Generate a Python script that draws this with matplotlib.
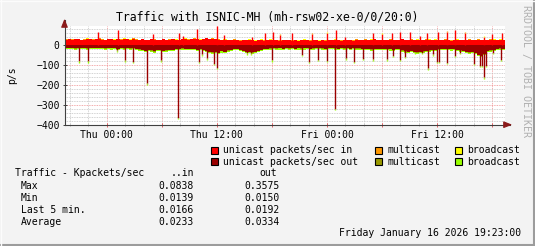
import numpy as np
import matplotlib
matplotlib.use("Agg")
import matplotlib.pyplot as plt
import matplotlib.dates as mdates
from matplotlib.patches import Rectangle
from matplotlib.ticker import MultipleLocator, FuncFormatter
import datetime as dt

W, H = 535, 246
MONO = "DejaVu Sans Mono"

# ---- data (packets/sec), 20 minute samples from Wed 19:23 to Fri 19:23 ----
start = dt.datetime(2026, 1, 14, 19, 23)
step_min = 20

uni_in = [
    26, 28, 25, 27, 29, 24, 26, 30, 27, 25, 28, 31, 26, 24, 27, 29, 25, 28, 26, 30, 27, 25, 29, 26,
    24, 27, 25, 23, 28, 26, 22, 25, 27, 24, 26, 29, 25, 23, 27, 30, 26, 28, 31, 27, 25, 29, 32, 28,
    30, 27, 26, 24, 25, 22, 24, 26, 23, 21, 24, 22, 25, 23, 20, 22, 24, 21, 23, 25, 22, 24, 21, 23,
    22, 24, 21, 23, 20, 22, 25, 23, 21, 24, 22, 20, 23, 21, 24, 22, 25, 23, 21, 22, 24, 23, 21, 25,
    24, 22, 26, 23, 25, 27, 24, 22, 25, 23, 26, 24, 22, 25, 27, 23, 24, 26, 22, 25, 23, 24, 26, 25,
    23, 25, 22, 24, 26, 23, 21, 24, 25, 22, 24, 23, 26, 24, 22, 25, 23, 24, 22, 26, 24, 23, 25, 24,
]
multi_in = [
    1, 1, 2, 1, 1, 1, 2, 1, 1, 3, 1, 1, 1, 2, 1, 1, 1, 1, 2, 1, 1, 1, 3, 1,
    1, 2, 1, 1, 1, 1, 2, 1, 1, 1, 1, 2, 1, 1, 1, 1, 3, 1, 1, 2, 1, 1, 1, 1,
    2, 1, 1, 1, 1, 2, 1, 1, 1, 1, 1, 2, 1, 1, 1, 1, 2, 1, 1, 1, 1, 1, 2, 1,
    1, 1, 2, 1, 1, 1, 1, 1, 2, 1, 1, 1, 1, 3, 1, 1, 1, 1, 2, 1, 1, 1, 1, 2,
    1, 1, 1, 2, 1, 1, 1, 1, 1, 2, 1, 1, 1, 1, 3, 1, 1, 1, 2, 1, 1, 1, 1, 1,
    2, 1, 1, 1, 1, 2, 1, 1, 1, 1, 1, 2, 1, 1, 1, 3, 1, 1, 1, 1, 2, 1, 1, 1,
]
bcast_in = [
    1, 0, 1, 0, 1, 1, 0, 1, 0, 1, 0, 1, 1, 0, 1, 0, 1, 0, 1, 1, 0, 1, 0, 1,
    0, 1, 0, 1, 1, 0, 1, 0, 1, 0, 1, 0, 1, 1, 0, 1, 0, 1, 0, 1, 1, 0, 1, 0,
    1, 0, 1, 0, 1, 1, 0, 1, 0, 1, 0, 1, 1, 0, 1, 0, 1, 0, 1, 1, 0, 1, 0, 1,
    0, 1, 1, 0, 1, 0, 1, 0, 1, 1, 0, 1, 0, 1, 0, 1, 1, 0, 1, 0, 1, 0, 1, 1,
    1, 0, 1, 0, 1, 1, 0, 1, 0, 1, 0, 1, 1, 0, 1, 0, 1, 0, 1, 1, 0, 1, 0, 1,
    0, 1, 0, 1, 1, 0, 1, 0, 1, 0, 1, 1, 0, 1, 0, 1, 0, 1, 1, 0, 1, 0, 1, 0,
]
uni_out = [
    14, 16, 15, 17, 14, 16, 15, 18, 16, 15, 17, 16, 14, 18, 15, 17, 16, 19, 15, 17, 16, 18, 17, 20,
    22, 26, 30, 24, 28, 32, 27, 25, 30, 28, 24, 26, 22, 20, 18, 21, 19, 22, 20, 24, 22, 26, 30, 34,
    38, 35, 40, 32, 36, 28, 24, 22, 20, 25, 30, 34, 36, 38, 34, 30, 26, 20, 19, 18, 16, 18, 17, 19,
    17, 18, 16, 19, 17, 18, 16, 17, 19, 18, 16, 17, 18, 20, 17, 16, 18, 19, 17, 18, 16, 19, 17, 18,
    18, 20, 19, 21, 22, 20, 19, 21, 20, 22, 21, 24, 22, 20, 28, 32, 36, 30, 34, 38, 35, 33, 30, 28,
    26, 24, 22, 20, 21, 19, 22, 20, 24, 28, 30, 34, 38, 36, 40, 50, 55, 45, 30, 28, 24, 20, 18, 19,
]
multi_out = [
    1, 1, 1, 2, 1, 1, 1, 1, 2, 1, 1, 1, 1, 1, 2, 1, 1, 1, 1, 2, 1, 1, 1, 1,
    2, 1, 1, 1, 1, 2, 1, 1, 1, 1, 1, 2, 1, 1, 1, 1, 2, 1, 1, 1, 1, 1, 2, 1,
    1, 1, 2, 1, 1, 1, 1, 1, 2, 1, 1, 1, 1, 2, 1, 1, 1, 1, 1, 2, 1, 1, 1, 1,
    1, 2, 1, 1, 1, 1, 2, 1, 1, 1, 1, 1, 2, 1, 1, 1, 1, 2, 1, 1, 1, 1, 1, 2,
    1, 1, 1, 1, 2, 1, 1, 1, 1, 1, 2, 1, 1, 1, 1, 2, 1, 1, 1, 1, 1, 2, 1, 1,
    1, 2, 1, 1, 1, 1, 1, 2, 1, 1, 1, 1, 2, 1, 1, 1, 1, 1, 2, 1, 1, 1, 1, 1,
]
bcast_out = [
    5, 6, 5, 5, 6, 5, 5, 6, 5, 6, 5, 5, 6, 5, 5, 6, 5, 5, 6, 5, 6, 5, 5, 6,
    5, 5, 6, 5, 6, 5, 5, 6, 5, 5, 6, 5, 5, 6, 5, 6, 5, 5, 6, 5, 5, 6, 5, 5,
    6, 5, 5, 6, 5, 5, 6, 5, 6, 5, 5, 6, 5, 5, 6, 5, 5, 6, 5, 6, 5, 5, 6, 5,
    5, 6, 5, 5, 6, 5, 6, 5, 5, 6, 5, 5, 6, 5, 5, 6, 5, 6, 5, 5, 6, 5, 5, 6,
    5, 5, 6, 5, 6, 5, 5, 6, 5, 5, 6, 5, 5, 6, 5, 6, 5, 5, 6, 5, 5, 6, 5, 5,
    6, 5, 5, 6, 5, 5, 6, 5, 6, 5, 5, 6, 5, 5, 6, 5, 5, 6, 5, 6, 5, 5, 6, 5,
]

# short bursts (hours after start, packets/sec of unicast)
in_spike_h = [3.65, 5.84, 9.62, 12.49, 12.93, 14.45, 16.64, 17.40, 20.45, 21.87, 22.71,
              23.51, 24.82, 26.97, 28.64, 29.62, 30.60, 33.62, 34.60, 35.69, 36.60, 37.69,
              38.78, 39.58, 40.78, 41.69, 42.60, 43.69, 45.76, 46.60, 47.69]
in_spike_v = [65, 72, 53, 57, 45, 77, 93, 48, 40, 57, 62,
              50, 57, 55, 58, 72, 40, 57, 55, 57, 65, 65,
              45, 60, 65, 65, 72, 60, 40, 55, 60]
out_spike_h = [1.58, 2.56, 5.73, 6.60, 7.51, 9.03, 10.53, 12.41, 14.67, 15.00, 15.58,
               16.31, 16.64, 19.91, 20.35, 22.64, 25.91, 26.67, 27.65, 28.64, 29.45,
               30.68, 31.58, 32.60, 33.69, 35.15, 35.84, 36.60, 37.15, 38.24, 38.97,
               39.69, 40.17, 40.64, 40.85, 41.67, 42.60, 43.15, 44.60, 45.33, 45.55,
               45.76, 45.98, 46.67, 47.62]
out_spike_v = [82, 82, 28, 78, 87, 193, 78, 365, 86, 48, 68,
               96, 114, 42, 42, 76, 52, 86, 76, 81, 322,
               68, 84, 69, 73, 73, 56, 76, 59, 37, 42,
               118, 48, 86, 86, 89, 56, 40, 97, 106, 106,
               163, 106, 42, 76]

legend_rows = [("Max", "0.0838", "0.3575"),
               ("Min", "0.0139", "0.0150"),
               ("Last 5 min.", "0.0166", "0.0192"),
               ("Average", "0.0233", "0.0334")]

C_UNI_IN = "#FF0000"
C_UNI_OUT = "#9A0000"
C_MUL_IN = "#FF9900"
C_MUL_OUT = "#999900"
C_BC_IN = "#FFFF00"
C_BC_OUT = "#99FF00"


def fx(x):
    return x / W


def fy(y):
    return 1 - y / H


n = len(uni_in)
start_num = mdates.date2num(start)
edges = start_num + np.arange(n + 1) * step_min / 1440.0

u_in = np.array(uni_in, float)
m_in = np.array(multi_in, float)
b_in = np.array(bcast_in, float)
u_out = -np.array(uni_out, float)
m_out = -np.array(multi_out, float)
b_out = -np.array(bcast_out, float)

fig = plt.figure(figsize=(W / 100, H / 100), dpi=100)
fig.patch.set_facecolor("#F3F3F3")

ax = fig.add_axes([fx(64.5), fy(124.7), (504.7 - 64.5) / W, (124.7 - 25.7) / H])
ax.set_facecolor("white")
for s in ax.spines.values():
    s.set_visible(False)

ax.set_xlim(edges[0], edges[-1])
ax.set_ylim(-400, 95)

# stacked areas
ax.stairs(u_in, edges, baseline=0, fill=True, color=C_UNI_IN, lw=0)
ax.stairs(u_in + m_in, edges, baseline=u_in, fill=True, color=C_MUL_IN, lw=0)
ax.stairs(u_in + m_in + b_in, edges, baseline=u_in + m_in, fill=True, color=C_BC_IN, lw=0)
ax.stairs(u_out, edges, baseline=0, fill=True, color=C_UNI_OUT, lw=0)
ax.stairs(u_out + m_out, edges, baseline=u_out, fill=True, color=C_MUL_OUT, lw=0)
ax.stairs(u_out + m_out + b_out, edges, baseline=u_out + m_out, fill=True, color=C_BC_OUT, lw=0)

# bursts
sx = start_num + np.array(in_spike_h) / 24.0
sv = np.array(in_spike_v, float)
si = np.clip(np.searchsorted(edges, sx) - 1, 0, n - 1)
ax.vlines(sx, 0, sv, color=C_UNI_IN, lw=1.0)
ax.vlines(sx, sv, sv + m_in[si], color=C_MUL_IN, lw=1.0)
ax.vlines(sx, sv + m_in[si], sv + m_in[si] + b_in[si], color=C_BC_IN, lw=1.0)

ox = start_num + np.array(out_spike_h) / 24.0
ov = -np.array(out_spike_v, float)
oi = np.clip(np.searchsorted(edges, ox) - 1, 0, n - 1)
ax.vlines(ox, 0, ov, color=C_UNI_OUT, lw=1.0)
ax.vlines(ox, ov, ov + m_out[oi], color=C_MUL_OUT, lw=1.0)
ax.vlines(ox, ov + m_out[oi], ov + m_out[oi] + b_out[oi], color=C_BC_OUT, lw=1.0)

# grid / ticks
ax.set_axisbelow(True)
ax.yaxis.set_major_locator(MultipleLocator(100))
ax.yaxis.set_minor_locator(MultipleLocator(20))
ax.xaxis.set_major_locator(mdates.HourLocator(byhour=[0, 6, 12, 18]))
ax.xaxis.set_minor_locator(mdates.HourLocator(byhour=range(0, 24, 2)))


def tfmt(x, pos):
    d = mdates.num2date(x)
    if d.hour in (0, 12) and d.minute == 0:
        return d.strftime("%a %H:%M")
    return ""


ax.xaxis.set_major_formatter(FuncFormatter(tfmt))
ax.grid(which="minor", color="#C4C4C4", linestyle=(0, (1, 1)), lw=0.6)
ax.grid(which="major", color="#F09090", linestyle=(0, (1, 1)), lw=0.6)
ax.tick_params(axis="x", which="major", direction="inout", length=3, width=0.7,
               color="#E06060", pad=2.5, labelsize=7)
ax.tick_params(axis="x", which="minor", direction="inout", length=2, width=0.6,
               color="#A0A0A0")
ax.tick_params(axis="y", which="major", direction="inout", length=3, width=0.7,
               color="#404040", pad=2, labelsize=7)
ax.tick_params(axis="y", which="minor", length=0)
for lab in ax.get_xticklabels() + ax.get_yticklabels():
    lab.set_fontfamily(MONO)

# axes with arrows
ax.plot([0, 1.012], [0, 0], transform=ax.transAxes, color="#404040", lw=0.8, clip_on=False)
ax.plot([0, 0], [0, 1.06], transform=ax.transAxes, color="#404040", lw=0.8, clip_on=False)
ax.annotate("", xy=(1.017, 0), xytext=(1.0, 0), xycoords="axes fraction",
            arrowprops=dict(arrowstyle="-|>,head_length=0.5,head_width=0.2",
                            color="#8B1A1A", lw=0.8, shrinkA=0, shrinkB=0), annotation_clip=False)
ax.annotate("", xy=(0, 1.07), xytext=(0, 1.0), xycoords="axes fraction",
            arrowprops=dict(arrowstyle="-|>,head_length=0.5,head_width=0.2",
                            color="#8B1A1A", lw=0.8, shrinkA=0, shrinkB=0), annotation_clip=False)

# texts
fig.text(fx(267.5), fy(17.3), "Traffic with ISNIC-MH (mh-rsw02-xe-0/0/20:0)",
         family=MONO, fontsize=8.3, ha="center", va="center")
fig.text(fx(12), fy(74.7), "p/s", family=MONO, fontsize=7, rotation=90,
         ha="center", va="center")
fig.text(fx(526), fy(5), "RRDTOOL / TOBI OETIKER", family=MONO, fontsize=7.2,
         rotation=270, ha="center", va="top", color="#B0B0B0")

legend_items = [(210.7, 150, C_UNI_IN, "unicast packets/sec in"),
                (210.7, 161.7, C_UNI_OUT, "unicast packets/sec out"),
                (375, 150, C_MUL_IN, "multicast"),
                (375, 161.7, C_MUL_OUT, "multicast"),
                (455, 150, C_BC_IN, "broadcast"),
                (455, 161.7, C_BC_OUT, "broadcast")]
for x0, yc, col, label in legend_items:
    fig.add_artist(Rectangle((fx(x0), fy(yc + 3.5)), 7 / W, 7 / H, transform=fig.transFigure,
                             facecolor=col, edgecolor="black", lw=0.8))
    fig.text(fx(x0 + 12.5), fy(yc), label, family=MONO, fontsize=7, ha="left", va="center")

fig.text(fx(15), fy(173.3), "Traffic - Kpackets/sec", family=MONO, fontsize=7, va="center")
fig.text(fx(194), fy(173.3), "..in", family=MONO, fontsize=7, ha="right", va="center")
fig.text(fx(277.3), fy(173.3), "out", family=MONO, fontsize=7, ha="right", va="center")
for k, (name, vin, vout) in enumerate(legend_rows):
    yy = 185.7 + 12 * k
    fig.text(fx(20.7), fy(yy), name, family=MONO, fontsize=7, va="center")
    fig.text(fx(194), fy(yy), vin, family=MONO, fontsize=7, ha="right", va="center")
    fig.text(fx(280), fy(yy), vout, family=MONO, fontsize=7, ha="right", va="center")

fig.text(fx(520.7), fy(233.3), "Friday January 16 2026 19:23:00", family=MONO,
         fontsize=7, ha="right", va="center")

# 3d frame
fig.add_artist(plt.Line2D([0, 1], [fy(245), fy(245)], transform=fig.transFigure, color="#9C9C9C", lw=1.5))
fig.add_artist(plt.Line2D([fx(534), fx(534)], [0, 1], transform=fig.transFigure, color="#9C9C9C", lw=1.5))
fig.add_artist(plt.Line2D([0, 1], [fy(0.5), fy(0.5)], transform=fig.transFigure, color="#FCFCFC", lw=1))
fig.add_artist(plt.Line2D([fx(0.5), fx(0.5)], [0, 1], transform=fig.transFigure, color="#FCFCFC", lw=1))

fig.savefig("out.png", dpi=100, facecolor=fig.get_facecolor())
